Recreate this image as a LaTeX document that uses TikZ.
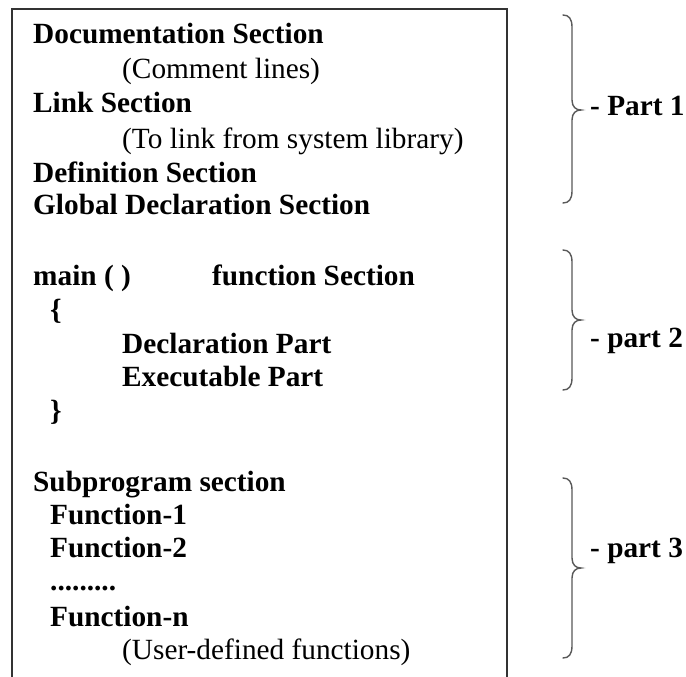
\documentclass[tikz,border=0pt]{standalone}
\usepackage{fontspec}
\setmainfont{Liberation Serif}
\begin{document}
\begin{tikzpicture}[x=1pt,y=-1pt,
    txt/.style={anchor=base west,inner sep=0pt,font=\fontsize{29.3}{34}\selectfont},
    btxt/.style={txt,font=\fontsize{29.3}{34}\selectfont\bfseries},
    frame/.style={draw=black!80,line width=2pt},
    curly/.style={draw=black!65,line width=1.4pt,line cap=round}]
\useasboundingbox (0,0) rectangle (686,677);
\fill[white] (0,0) rectangle (686,677);

% outer frame, open at the bottom
\draw[frame] (12,690) -- (12,9) -- (507,9) -- (507,690);

% part 1: header lines
\node[btxt] (doc)  at (33,44)  {Documentation Section};
\node[txt]  (com)  at (122,79) {(Comment lines)};
\node[btxt] (lnk)  at (33,113) {Link Section};
\node[txt]  (lnkc) at (122,148) {(To link from system library)};
\node[btxt] (def)  at (33,182) {Definition Section};
\node[btxt] (glb)  at (33,214) {Global Declaration Section};

% part 2: main function
\node[btxt] (mn)   at (33,285)  {main ( )};
\node[btxt] (fns)  at (212,285) {function Section};
\node[btxt] (ob)   at (50,319)  {\{};
\node[btxt] (dcl)  at (122,353) {Declaration Part};
\node[btxt] (exe)  at (122,386) {Executable Part};
\node[btxt] (cb)   at (50,420)  {\}};

% part 3: subprograms
\node[btxt] (sub)  at (33,491)  {Subprogram section};
\node[btxt] (f1)   at (50,524)  {Function-1};
\node[btxt] (f2)   at (50,557)  {Function-2};
\node[btxt] (dots) at (50,590)  {.........};
\node[btxt] (fn)   at (50,626)  {Function-n};
\node[txt]  (udf)  at (122,659) {(User-defined functions)};

% curly braces on the right
\foreach \top/\tip/\bot in {15/110/203, 250/320/390, 478/568/658}{
  \draw[curly] (563,\top) .. controls (569,\top) and (572,\top+4) .. (572,\top+12)
    -- (572,\tip-10) .. controls (572,\tip-3) and (576,\tip) .. (581,\tip)
    .. controls (576,\tip) and (572,\tip+3) .. (572,\tip+10)
    -- (572,\bot-12) .. controls (572,\bot-4) and (569,\bot) .. (563,\bot);
}

\node[btxt] (p1) at (590,115) {- Part 1};
\node[btxt] (p2) at (590,347) {- part 2};
\node[btxt] (p3) at (590,557) {- part 3};
\end{tikzpicture}
\end{document}
